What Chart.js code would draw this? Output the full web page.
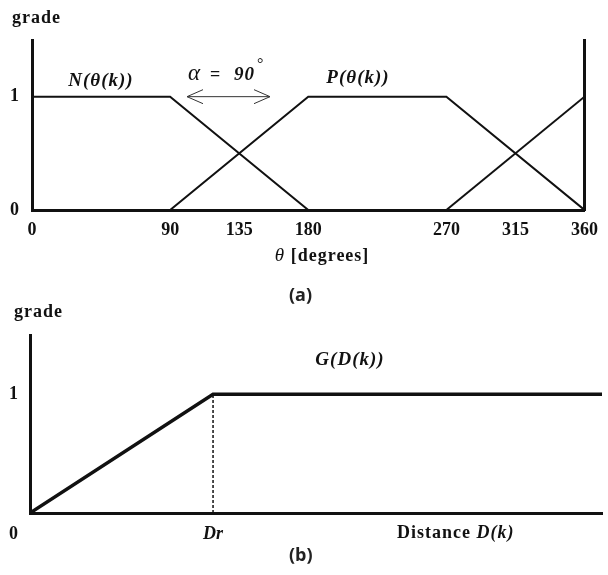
<!DOCTYPE html>
<html>
<head>
<meta charset="utf-8">
<script src="https://cdn.jsdelivr.net/npm/chart.js@4"></script>
<style>
html,body{margin:0;padding:0;background:#fff;}
#wrap{position:relative;width:608px;height:575px;overflow:hidden;}
canvas{position:absolute;left:0;}
#ca{top:0;}
#cb{top:300px;}
.cap{position:absolute;font-family:"Open Sans",sans-serif;font-weight:700;font-size:18px;color:#222;}
</style>
</head>
<body>
<div id="wrap">
  <canvas id="ca" width="608" height="300"></canvas>
  <canvas id="cb" width="608" height="275"></canvas>
  <div class="cap" style="left:289px;top:282px">(a)</div>
  <div class="cap" style="left:289px;top:542px">(b)</div>
</div>
<script>
// panel (a): membership over the angle
const thetaTicks = [0, 90, 135, 180, 270, 315, 360];
const nX = [0, 90, 180];
const nY = [1, 1, 0];
const pX = [90, 180, 270, 360];
const pY = [0, 1, 1, 0];
const nWrapX = [270, 360];
const nWrapY = [0, 1];
const gradeTicks = [0, 1];

// panel (b): membership over the distance
const gX = [0, 3.2, 10];
const gY = [0, 1, 1];
const drX = 3.2;

const serif = '"Liberation Serif", "Times New Roman", serif';
const ink = '#111';

function pts(xs, ys){ return xs.map((x,i) => ({x:x, y:ys[i]})); }

function line(data, w){
  return {data:data, borderColor:ink, borderWidth:w, pointRadius:0, tension:0, fill:false};
}

function txt(ctx, s, font, x, y, align){
  ctx.font = font;
  ctx.textAlign = align || 'left';
  ctx.fillText(s, x, y);
  return ctx.measureText(s).width;
}

const annotA = {
  id:'annotA',
  afterDraw(c){
    const ctx = c.ctx, y = c.scales.y;
    ctx.save();
    ctx.fillStyle = ink;
    ctx.textBaseline = 'middle';
    ctx.letterSpacing = '1px';

    txt(ctx, 'grade', `bold 18px ${serif}`, 12, 18);
    txt(ctx, 'N(θ(k))', `italic bold 19px ${serif}`, 101, 81, 'center');
    txt(ctx, 'P(θ(k))', `italic bold 19px ${serif}`, 358, 78, 'center');

    // alpha = 90 deg
    ctx.letterSpacing = '0px';
    txt(ctx, 'α', `italic 23px ${serif}`, 188, 74);
    txt(ctx, '=', `bold 18px ${serif}`, 210, 75);
    ctx.letterSpacing = '1px';
    txt(ctx, '90', `italic bold 19px ${serif}`, 234, 75);
    ctx.letterSpacing = '0px';
    txt(ctx, '°', `16px ${serif}`, 257, 65);

    // double-headed arrow
    const yy = y.getPixelForValue(1);
    const a = 187, b = 270;
    ctx.strokeStyle = '#333';
    ctx.lineWidth = 1;
    ctx.beginPath();
    ctx.moveTo(a, yy); ctx.lineTo(b, yy);
    ctx.moveTo(a+16, yy-7); ctx.lineTo(a, yy); ctx.lineTo(a+16, yy+7);
    ctx.moveTo(b-16, yy-7); ctx.lineTo(b, yy); ctx.lineTo(b-16, yy+7);
    ctx.stroke();

    // axis title
    ctx.letterSpacing = '1px';
    ctx.font = `italic 19px ${serif}`;
    const t1 = 'θ ';
    const w1 = ctx.measureText(t1).width;
    ctx.font = `bold 18px ${serif}`;
    const t2 = '[degrees]';
    const w2 = ctx.measureText(t2).width;
    const sx = 322 - (w1 + w2)/2;
    txt(ctx, t1, `italic 19px ${serif}`, sx, 256);
    txt(ctx, t2, `bold 18px ${serif}`, sx + w1, 256);
    ctx.restore();
  }
};

new Chart(document.getElementById('ca'), {
  type:'line',
  data:{datasets:[
    line(pts(nX, nY), 2),
    line(pts(pX, pY), 2),
    line(pts(nWrapX, nWrapY), 2)
  ]},
  options:{
    responsive:false,
    animation:false,
    layout:{padding:{top:40, left:0, right:0, bottom:0}},
    plugins:{legend:{display:false}, tooltip:{enabled:false}},
    scales:{
      x:{
        type:'linear', min:0, max:360,
        afterBuildTicks: s => { s.ticks = thetaTicks.map(v => ({value:v})); },
        afterFit: s => { s.height = 90; },
        grid:{display:false, drawTicks:false},
        border:{width:3, color:ink},
        ticks:{padding:10, color:ink, autoSkip:false, maxRotation:0, font:{family:serif, size:18, weight:'bold'}}
      },
      y:{
        min:0, max:1.5,
        afterBuildTicks: s => { s.ticks = gradeTicks.map(v => ({value:v})); },
        afterFit: s => { s.width = 32; },
        grid:{display:false, drawTicks:false},
        border:{width:3, color:ink},
        ticks:{padding:13, color:ink, font:{family:serif, size:18, weight:'bold'}}
      },
      y2:{
        position:'right', min:0, max:1.5,
        afterFit: s => { s.width = 23; },
        ticks:{display:false},
        grid:{display:false, drawTicks:false},
        border:{width:3, color:ink}
      }
    }
  },
  plugins:[annotA]
});

const annotB = {
  id:'annotB',
  afterDraw(c){
    const ctx = c.ctx;
    ctx.save();
    ctx.fillStyle = ink;
    ctx.textBaseline = 'middle';
    ctx.letterSpacing = '1px';

    txt(ctx, 'grade', `bold 18px ${serif}`, 14, 12);
    txt(ctx, '0', `bold 18px ${serif}`, 14, 234, 'center');
    txt(ctx, 'G(D(k))', `italic bold 19px ${serif}`, 350, 60, 'center');

    const w1 = txt(ctx, 'Distance ', `bold 18px ${serif}`, 397, 233);
    txt(ctx, 'D(k)', `italic bold 18px ${serif}`, 397 + w1, 233);
    ctx.restore();
  }
};

new Chart(document.getElementById('cb'), {
  type:'line',
  data:{datasets:[
    line(pts(gX, gY), 3.5),
    Object.assign(line(pts([drX, drX], [0, 1]), 1.5), {borderDash:[3,2]})
  ]},
  options:{
    responsive:false,
    animation:false,
    layout:{padding:{top:35, left:0, right:6, bottom:0}},
    plugins:{legend:{display:false}, tooltip:{enabled:false}},
    scales:{
      x:{
        type:'linear', min:0, max:10,
        afterBuildTicks: s => { s.ticks = [{value:drX}]; },
        afterFit: s => { s.height = 62; },
        grid:{display:false, drawTicks:false},
        border:{width:3, color:ink},
        ticks:{padding:11, color:ink, maxRotation:0, callback: () => 'Dr',
               font:{family:serif, size:18, weight:'bold', style:'italic'}}
      },
      y:{
        min:0, max:1.5,
        afterBuildTicks: s => { s.ticks = [{value:1}]; },
        afterFit: s => { s.width = 30; },
        grid:{display:false, drawTicks:false},
        border:{width:3, color:ink},
        ticks:{padding:12, color:ink, font:{family:serif, size:18, weight:'bold'}}
      }
    }
  },
  plugins:[annotB]
});
</script>
</body>
</html>
